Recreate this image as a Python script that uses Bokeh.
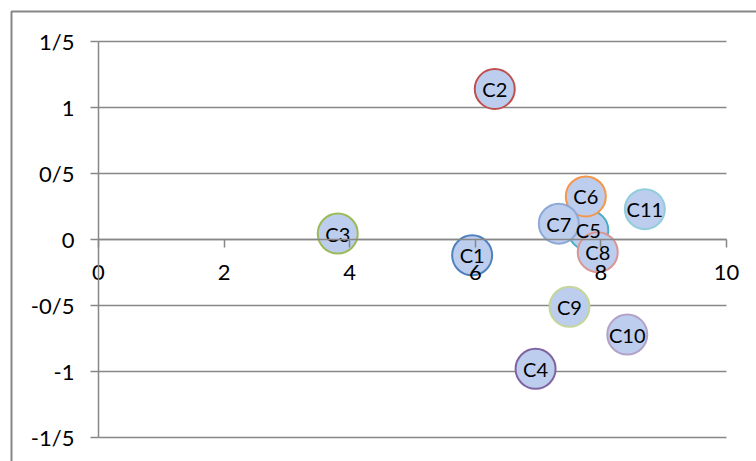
from bokeh.plotting import figure
from bokeh.models import ColumnDataSource, Range1d, FixedTicker, BoxAnnotation
from bokeh.core.properties import value
from bokeh.embed import file_html
from bokeh.resources import INLINE

names = ["C1", "C2", "C3", "C4", "C5", "C6", "C7", "C8", "C9", "C10", "C11"]
x_vals = [5.95, 6.31, 3.81, 6.96, 7.80, 7.76, 7.33, 7.95, 7.50, 8.42, 8.70]
y_vals = [-0.12, 1.14, 0.045, -0.98, 0.07, 0.326, 0.12, -0.096, -0.51, -0.72, 0.23]
outline_colors = ["#4F81BD", "#C0504D", "#9BBB59", "#8064A2", "#4BACC6", "#F79646",
                  "#8EA9D6", "#D99694", "#C3D69B", "#B3A2C7", "#92CDDC"]

x_ticks = [0, 2, 4, 6, 8, 10]
y_ticks = [-1.5, -1, -0.5, 0, 0.5, 1, 1.5]
y_tick_labels = ["-1/5", "-1", "-0/5", "0", "0/5", "1", "1/5"]

FONT = "Lato"
GRID = "#878787"

# plot area spans x 0..10, y -1.5..1.5; the frame covers the whole canvas so
# that axis labels drawn at fixed locations are not clipped
p = figure(width=756, height=461, output_backend="svg", toolbar_location=None,
           x_range=Range1d(-1.5605, 10.478), y_range=Range1d(-1.6818, 1.8106),
           min_border=0)
p.outline_line_color = None
p.background_fill_color = "white"
p.border_fill_color = "white"
p.xgrid.visible = False
p.ygrid.visible = False

# horizontal gridlines only across the plot area
p.segment(x0=x_ticks[0], x1=x_ticks[-1], y0=y_ticks, y1=y_ticks,
          line_color=GRID, line_width=1.5)

# y axis at x = 0
p.yaxis.fixed_location = 0
p.yaxis.bounds = (y_ticks[0], y_ticks[-1])
p.yaxis.ticker = FixedTicker(ticks=y_ticks)
p.yaxis.major_label_overrides = {t: l for t, l in zip(y_ticks, y_tick_labels)}
p.yaxis.axis_line_color = GRID
p.yaxis.axis_line_width = 1.5
p.yaxis.major_tick_line_color = GRID
p.yaxis.major_tick_line_width = 1.5
p.yaxis.major_tick_out = 8
p.yaxis.major_tick_in = 0
p.yaxis.minor_tick_line_color = None
p.yaxis.major_label_standoff = 16
p.yaxis.major_label_text_font = FONT
p.yaxis.major_label_text_font_size = "22px"
p.yaxis.major_label_text_color = "black"

# x axis at y = 0
p.xaxis.fixed_location = 0
p.xaxis.bounds = (x_ticks[0], x_ticks[-1])
p.xaxis.ticker = FixedTicker(ticks=x_ticks)
p.xaxis.axis_line_color = GRID
p.xaxis.axis_line_width = 1.5
p.xaxis.major_tick_line_color = GRID
p.xaxis.major_tick_line_width = 1.5
p.xaxis.major_tick_out = 8
p.xaxis.major_tick_in = 0
p.xaxis.minor_tick_line_color = None
p.xaxis.major_label_standoff = 17
p.xaxis.major_label_text_font = FONT
p.xaxis.major_label_text_font_size = "22px"
p.xaxis.major_label_text_color = "black"

src = ColumnDataSource(dict(x=x_vals, y=y_vals, name=names, lc=outline_colors))
p.scatter("x", "y", source=src, size=40, marker="circle",
          fill_color="#bccdee", line_color="lc", line_width=2)
p.text("x", "y", text="name", source=src, text_align="center", text_baseline="middle",
       text_font=value(FONT), text_font_size="20px", text_color="black")

# chart-area border
p.add_layout(BoxAnnotation(left=11, right=2000, top=11, bottom=2000,
                           left_units="canvas", right_units="canvas",
                           top_units="canvas", bottom_units="canvas",
                           fill_color=None, fill_alpha=0,
                           line_color=GRID, line_alpha=1.0, line_width=2,
                           level="overlay"))

open("out.html", "w").write(file_html(p, INLINE))
